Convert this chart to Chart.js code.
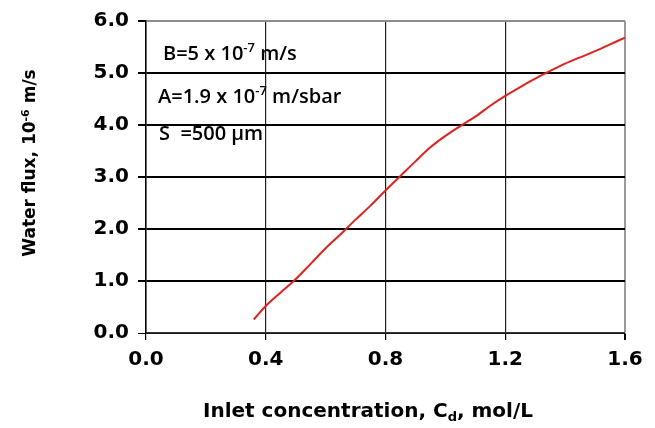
<!DOCTYPE html>
<html>
<head>
<meta charset="utf-8">
<script src="https://cdn.jsdelivr.net/npm/chart.js@4/dist/chart.umd.min.js"></script>
<style>
  html, body { margin: 0; padding: 0; background: #fff; }
  #wrap { width: 655px; height: 428px; }
</style>
</head>
<body>
<div id="wrap"><canvas id="chart" width="655" height="428"></canvas></div>
<script>
// values
const concentration = [0.36, 0.40, 0.45, 0.49, 0.55, 0.60, 0.65, 0.70, 0.75, 0.80, 0.85, 0.90, 0.95,
  1.00, 1.05, 1.10, 1.15, 1.20, 1.25, 1.30, 1.35, 1.40, 1.45, 1.50, 1.55, 1.60];
const waterFlux = [0.26, 0.52, 0.78, 0.98, 1.33, 1.63, 1.90, 2.18, 2.45, 2.74, 3.02, 3.30, 3.57,
  3.79, 3.98, 4.16, 4.37, 4.56, 4.73, 4.89, 5.04, 5.18, 5.30, 5.42, 5.55, 5.68];
const xTicks = [0, 0.4, 0.8, 1.2, 1.6];
const yTicks = [0, 1, 2, 3, 4, 5, 6];

const notes = [
  [{ t: "B=5 x 10" }, { t: "-7", sup: true }, { t: " m/s" }],
  [{ t: "A=1.9 x 10" }, { t: "-7", sup: true }, { t: " m/sbar" }],
  [{ t: "S  =500 \u03bcm" }],
];
const yTitle = [{ t: "Water flux, 10" }, { t: "-6", sup: true }, { t: " m/s" }];
const xTitle = [{ t: "Inlet concentration, C" }, { t: "d", sub: true }, { t: ", mol/L" }];

const tickFont = { family: "'DejaVu Sans'", size: 20, weight: "bold" };

// draws a line of text with super/subscript parts
const drawRich = (ctx, parts, x, y, size, family, weight, align) => {
  const small = Math.round(size * 0.65);
  const fontOf = (p) => weight + " " + (p.sup || p.sub ? small : size) + "px " + family;
  let total = 0;
  parts.forEach((p) => {
    ctx.font = fontOf(p);
    total += ctx.measureText(p.t).width;
  });
  let cx = align === "center" ? x - total / 2 : x;
  ctx.textBaseline = "alphabetic";
  ctx.textAlign = "left";
  parts.forEach((p) => {
    ctx.font = fontOf(p);
    let dy = 0;
    if (p.sup) dy = -size * 0.38;
    if (p.sub) dy = size * 0.2;
    ctx.fillText(p.t, cx, y + dy);
    cx += ctx.measureText(p.t).width;
  });
};

const textPlugin = {
  id: "texts",
  afterDraw(chart) {
    const ctx = chart.ctx;
    ctx.save();
    ctx.fillStyle = "#000";
    const fam = "'Open Sans'";
    drawRich(ctx, notes[0], 163, 60, 20, fam, "600", "left");
    drawRich(ctx, notes[1], 158, 103, 20, fam, "600", "left");
    drawRich(ctx, notes[2], 159, 140, 20, fam, "600", "left");

    drawRich(ctx, xTitle, 368, 417, 20, "'DejaVu Sans'", "bold", "center");

    ctx.translate(35, 163);
    ctx.rotate(-Math.PI / 2);
    drawRich(ctx, yTitle, 0, 0, 17, "'DejaVu Sans'", "bold", "center");
    ctx.restore();
  },
};

new Chart(document.getElementById("chart"), {
  type: "line",
  data: {
    datasets: [
      {
        data: concentration.map((c, i) => ({ x: c, y: waterFlux[i] })),
        borderColor: "#e4201c",
        borderWidth: 2,
        pointRadius: 0,
        cubicInterpolationMode: "monotone",
        fill: false,
      },
    ],
  },
  options: {
    responsive: false,
    animation: false,
    layout: { padding: { left: 0, top: 19, right: 30, bottom: 0 } },
    plugins: { legend: { display: false }, tooltip: { enabled: false } },
    scales: {
      x: {
        type: "linear",
        min: 0,
        max: 1.6,
        afterBuildTicks: (scale) => {
          scale.ticks = xTicks.map((v) => ({ value: v }));
        },
        afterFit: (scale) => {
          scale.height = 95;
        },
        ticks: {
          font: tickFont,
          color: "#000",
          padding: 8,
          maxRotation: 0,
          callback: (v) => Number(v).toFixed(1),
        },
        grid: {
          color: (c) => (c.tick && c.tick.value === 1.6 ? "#9a9a9a" : c.tick && c.tick.value === 0 ? "#000" : "#222"),
          lineWidth: (c) => (c.tick && c.tick.value === 1.6 ? 2 : 1.2),
          tickColor: "#000",
          tickLength: 7,
        },
        border: { color: "#333", width: 1.5 },
      },
      y: {
        min: 0,
        max: 6,
        afterBuildTicks: (scale) => {
          scale.ticks = yTicks.map((v) => ({ value: v }));
        },
        afterFit: (scale) => {
          scale.width = 146;
        },
        ticks: {
          font: tickFont,
          color: "#000",
          padding: 9,
          callback: (v) => Number(v).toFixed(1),
        },
        grid: {
          color: (c) => (c.tick && c.tick.value === 6 ? "#8c8c8c" : "#000"),
          lineWidth: (c) => (c.tick && c.tick.value === 0 ? 1 : 2),
          tickColor: "#000",
          tickLength: 8,
        },
        border: { color: "#000", width: 1.5 },
      },
    },
  },
  plugins: [textPlugin],
});
</script>
</body>
</html>
